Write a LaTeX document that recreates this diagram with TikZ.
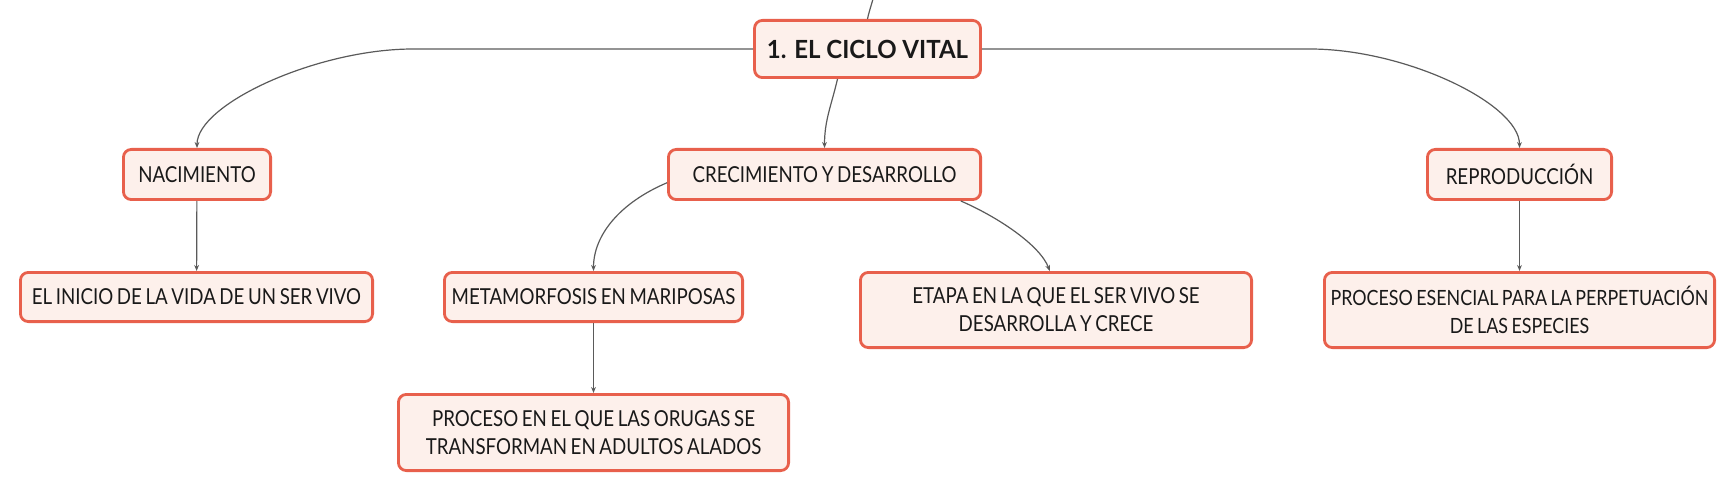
\documentclass[tikz,border=0pt]{standalone}
\usepackage{fontspec}
\setmainfont{Lato}[FakeStretch=0.85,WordSpace=0.75]
\newfontfamily\raiz{Lato}[FakeStretch=0.96]
\usetikzlibrary{arrows.meta}
\definecolor{borde}{HTML}{E8604C}
\definecolor{fondo}{HTML}{FDF0EB}
\definecolor{linea}{HTML}{5A5A5A}
\begin{document}
\begin{tikzpicture}[x=0.5pt,y=-0.5pt,>={Stealth[length=3pt,width=2.4pt]},
		caja/.style={draw=borde,fill=fondo,line width=1.4pt,rounded corners=4pt,align=center,inner xsep=0pt,text=black!90,font=\fontsize{11}{14}\selectfont},
		enlace/.style={draw=linea,line width=0.6pt,->}]
	\useasboundingbox (0,0) rectangle (1736,492);
	\node[caja,minimum width=113pt,minimum height=28.6pt,font=\raiz\fontsize{12.5}{15}\selectfont\bfseries] (ciclo) at (867.5,49) {1. EL CICLO VITAL};
	\node[caja,minimum width=73.6pt,minimum height=25.1pt] (nac) at (197,174.5) {NACIMIENTO};
	\node[caja,minimum width=156.1pt,minimum height=25.1pt] (crec) at (824.5,174.5) {CRECIMIENTO Y DESARROLLO};
	\node[caja,minimum width=92.1pt,minimum height=25.1pt] (rep) at (1519.5,174.5) {REPRODUCCIÓN};
	\node[caja,minimum width=176.1pt,minimum height=24.6pt] (inicio) at (196.5,297) {EL INICIO DE LA VIDA DE UN SER VIVO};
	\node[caja,minimum width=149.1pt,minimum height=24.6pt] (meta) at (593.5,297) {METAMORFOSIS EN MARIPOSAS};
	\node[caja,minimum width=195.6pt,minimum height=37.6pt] (etapa) at (1056,310) {ETAPA EN LA QUE EL SER VIVO SE\\DESARROLLA Y CRECE};
	\node[caja,minimum width=195.1pt,minimum height=37.6pt,font=\fontsize{10.5}{14}\selectfont] (esencial) at (1519.5,310) {PROCESO ESENCIAL PARA LA PERPETUACIÓN\\DE LAS ESPECIES};
	\node[caja,minimum width=195.1pt,minimum height=38.1pt] (orugas) at (593.5,432.5) {PROCESO EN EL QUE LAS ORUGAS SE\\TRANSFORMAN EN ADULTOS ALADOS};
	\coordinate (arriba) at (875,-10);
	\draw[enlace,-] (ciclo.north) .. controls +(2,-10) and +(-1,8) .. (arriba);
	\draw[enlace] (ciclo.west) -- ++(-340,0) .. controls +(-96,0) and +(0,-44) .. (nac.north);
	\draw[enlace] (ciclo.east) -- ++(328,0) .. controls +(96,0) and +(0,-44) .. (rep.north);
	\draw[enlace] (ciclo.-135) .. controls +(-6,26) and +(0,-28) .. (crec.north);
	\draw[enlace] (crec.183) .. controls +(-47,20) and +(0,-36) .. (meta.north);
	\draw[enlace] (crec.-11) .. controls +(37,16) and +(-10,-26) .. (etapa.99);
	\foreach \a/\b in {nac/inicio,meta/orugas,rep/esencial}
		\draw[enlace] (\a) -- (\b);
\end{tikzpicture}
\end{document}
